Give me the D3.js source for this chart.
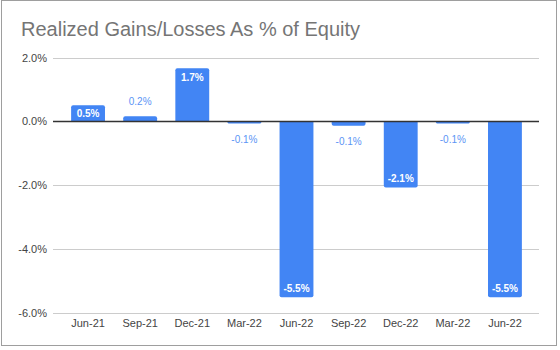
<!DOCTYPE html>
<html>
<head>
<meta charset="utf-8">
<script src="https://cdn.jsdelivr.net/npm/d3@7"></script>
<style>
  html, body { margin: 0; padding: 0; background: #fff; }
  svg { display: block; font-family: "Liberation Sans", Arial, sans-serif; }
</style>
</head>
<body>
<svg id="chart" width="560" height="350"></svg>
<script>
const title = "Realized Gains/Losses As % of Equity";
const categories = ["Jun-21", "Sep-21", "Dec-21", "Mar-22", "Jun-22", "Sep-22", "Dec-22", "Mar-22 ", "Jun-22 "];
const categoryLabels = ["Jun-21", "Sep-21", "Dec-21", "Mar-22", "Jun-22", "Sep-22", "Dec-22", "Mar-22", "Jun-22"];
const values = [0.5, 0.16, 1.66, -0.07, -5.52, -0.14, -2.08, -0.07, -5.52];
const yTicks = [2, 0, -2, -4, -6];

const svg = d3.select("#chart");

svg.append("rect").attr("x", 1.5).attr("y", 0.5).attr("width", 555).attr("height", 345)
  .attr("fill", "#fff").attr("stroke", "#9e9e9e").attr("stroke-width", 1);

svg.append("text").attr("x", 21).attr("y", 36).attr("fill", "#757575")
  .attr("font-size", 20).text(title);

const x = d3.scaleBand().domain(categories).range([62, 531]).paddingInner(0.35).paddingOuter(0.175);
const y = d3.scaleLinear().domain([-6, 2]).range([312.5, 57.5]);

const fmt = d => (d < 0 ? "-" : "") + Math.abs(d).toFixed(1) + "%";

// gridlines
const gx0 = 53, gx1 = 539;
svg.append("g").selectAll("line").data(yTicks.filter(d => d !== 0)).join("line")
  .attr("x1", gx0).attr("x2", gx1)
  .attr("y1", d => Math.round(y(d)) + 0.5).attr("y2", d => Math.round(y(d)) + 0.5)
  .attr("stroke", "#cccccc").attr("stroke-width", 1);

// y axis labels
const yAxis = d3.axisLeft(y).tickValues(yTicks).tickSize(0).tickPadding(0).tickFormat(fmt);
const ya = svg.append("g").attr("transform", `translate(47,0)`).call(yAxis);
ya.select(".domain").remove();
ya.selectAll("text").attr("font-size", 11).attr("fill", "#444").attr("font-family", "Liberation Sans, Arial, sans-serif");

// x axis labels
const xAxis = d3.axisBottom(x).tickSize(0).tickPadding(0).tickFormat((d, i) => categoryLabels[i]);
const xa = svg.append("g").attr("transform", `translate(0,${Math.round(y(-6)) + 6})`).call(xAxis);
xa.select(".domain").remove();
xa.selectAll("text").attr("font-size", 11).attr("fill", "#444").attr("font-family", "Liberation Sans, Arial, sans-serif");

// bars with rounded far end
const r = 2;
function barPath(d, i) {
  const c = categories[i];
  const x0 = x(c), w = x.bandwidth();
  const y0 = y(0), y1 = y(d);
  const h = Math.abs(y1 - y0);
  const rr = Math.min(r, h / 2, w / 2);
  const s = d >= 0 ? 1 : -1;
  return `M${x0},${y0} L${x0},${y1 + s * rr} Q${x0},${y1} ${x0 + rr},${y1} L${x0 + w - rr},${y1} Q${x0 + w},${y1} ${x0 + w},${y1 + s * rr} L${x0 + w},${y0} Z`;
}
svg.append("g").selectAll("path").data(values).join("path")
  .attr("d", barPath).attr("fill", "#4285F4");

// zero line
svg.append("line").attr("x1", gx0).attr("x2", gx1)
  .attr("y1", Math.round(y(0)) + 0.5).attr("y2", Math.round(y(0)) + 0.5)
  .attr("stroke", "#333").attr("stroke-width", 1.3);

// labels
const isInside = d => Math.abs(y(d) - y(0)) >= 14;
svg.append("g").selectAll("text").data(values).join("text")
  .attr("x", (d, i) => x(categories[i]) + x.bandwidth() / 2)
  .attr("y", d => {
    if (d >= 0) return isInside(d) ? Math.min(y(d) + 9, (y(d) + y(0)) / 2) : y(d) - 15;
    return isInside(d) ? y(d) - 9 : y(d) + 16;
  })
  .attr("dy", "0.35em")
  .attr("text-anchor", "middle")
  .attr("font-size", 10)
  .attr("font-weight", d => isInside(d) ? "bold" : "normal")
  .attr("fill", d => isInside(d) ? "#fff" : "#5b95f5")
  .text(fmt);
</script>
</body>
</html>
